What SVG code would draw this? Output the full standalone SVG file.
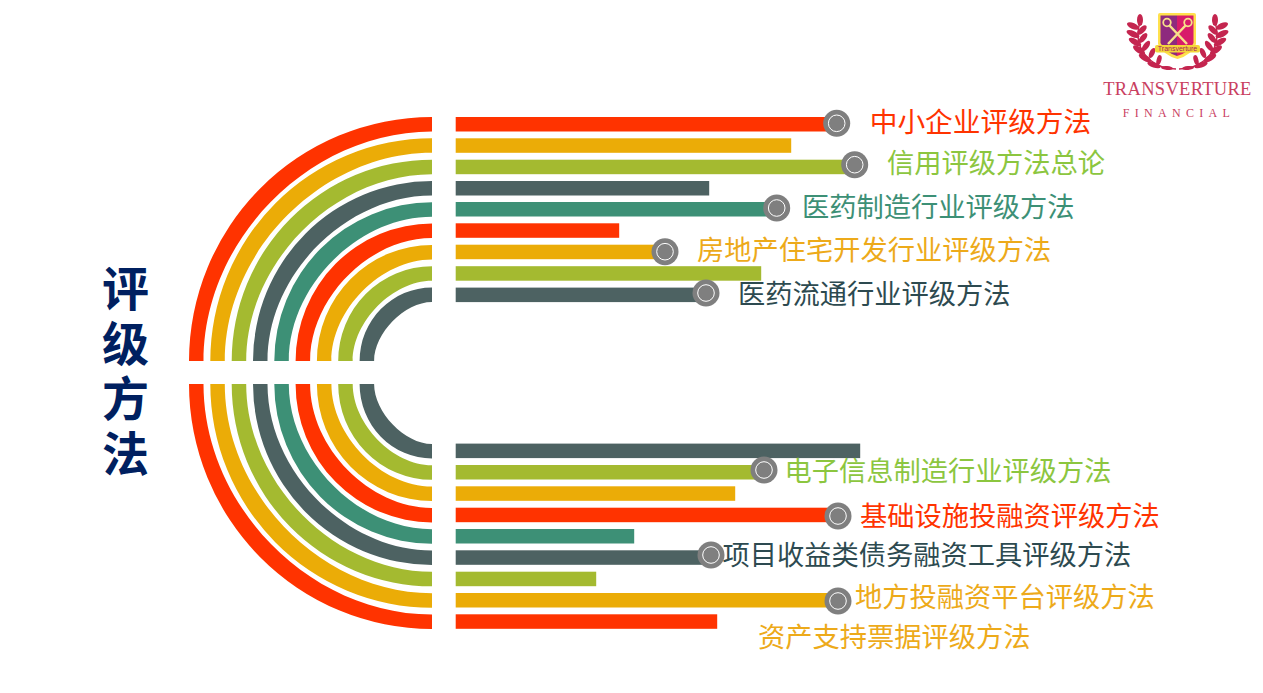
<svg xmlns="http://www.w3.org/2000/svg" width="1263" height="693" viewBox="0 0 1263 693">
<style>
.fr{fill:#ff3300}.fy{fill:#ebac07}.fg{fill:#a4ba30}.fd{fill:#4d6262}.ft{fill:#3d9076}
.lb{font-family:"Noto Sans CJK SC","Liberation Sans",sans-serif;font-size:27.25px}
.ti{font-family:"Noto Sans CJK SC","Liberation Sans",sans-serif;font-size:47px;font-weight:700;fill:#002060;writing-mode:vertical-rl;letter-spacing:8px}
.o{fill:#7f7f7f}.i{fill:none;stroke:#fff;stroke-width:1}
.lf{fill:#c4254f}
</style>
<defs>
<g id="dot"><circle r="13.5" class="o"/><circle r="8.300" class="i"/></g>
<g id="laurel">
<path d="M1140 22Q1133 45 1150 60Q1161 69 1176 69" fill="none" stroke="#c4254f" stroke-width="1.500"/>
<ellipse class="lf" cx="1140" cy="20" rx="3" ry="6"/>
<ellipse class="lf" cx="1133" cy="26" rx="6.500" ry="3" transform="rotate(25 1133 26)"/>
<ellipse class="lf" cx="1142" cy="30" rx="6" ry="2.800" transform="rotate(-45 1142 30)"/>
<ellipse class="lf" cx="1133" cy="34" rx="7" ry="3" transform="rotate(25 1133 34)"/>
<ellipse class="lf" cx="1143" cy="38" rx="6" ry="2.800" transform="rotate(-50 1143 38)"/>
<ellipse class="lf" cx="1135" cy="42" rx="7" ry="3" transform="rotate(30 1135 42)"/>
<ellipse class="lf" cx="1146" cy="46" rx="6" ry="2.800" transform="rotate(-55 1146 46)"/>
<ellipse class="lf" cx="1139" cy="50" rx="7" ry="3" transform="rotate(35 1139 50)"/>
<ellipse class="lf" cx="1152" cy="53" rx="5.500" ry="2.600" transform="rotate(-65 1152 53)"/>
<ellipse class="lf" cx="1145" cy="58" rx="7" ry="3" transform="rotate(30 1145 58)"/>
<ellipse class="lf" cx="1159" cy="60" rx="5" ry="2.400" transform="rotate(-75 1159 60)"/>
<ellipse class="lf" cx="1154" cy="65" rx="7" ry="2.600" transform="rotate(18 1154 65)"/>
<ellipse class="lf" cx="1167" cy="68" rx="6" ry="2" transform="rotate(5 1167 68)"/>
</g>
</defs>
<rect width="1263" height="693" fill="#fff"/>
<g id="arcs-top">
<path class="fr" d="M189 361A243 244 0 0 1 432 117V131.500C310.500 131.500 203.500 239 203.500 361Z"/>
<path class="fy" d="M210.300 361A221.700 222.700 0 0 1 432 138.300V152.800C322.300 152.800 224.800 250.700 224.800 361Z"/>
<path class="fg" d="M231.700 361A200.300 201.300 0 0 1 432 159.700V174.200C334.100 174.200 246.200 262.600 246.200 361Z"/>
<path class="fd" d="M253 361A179 180 0 0 1 432 181V195.500C345.900 195.500 267.500 274.300 267.500 361Z"/>
<path class="ft" d="M274.300 361A157.700 158.700 0 0 1 432 202.300V216.800C357.600 216.800 288.800 286.100 288.800 361Z"/>
<path class="fr" d="M295.600 361A136.400 137.400 0 0 1 432 223.600V238.100C369.400 238.100 310.100 297.900 310.100 361Z"/>
<path class="fy" d="M316.900 361A115.100 116.100 0 0 1 432 244.900V259.400C381.100 259.400 331.400 309.600 331.400 361Z"/>
<path class="fg" d="M338.200 361A93.800 94.800 0 0 1 432 266.200V280.700C392.900 280.700 352.700 321.400 352.700 361Z"/>
<path class="fd" d="M359.600 361A72.400 73.500 0 0 1 432 287.500V302C404.700 302 374.100 333.200 374.100 361Z"/>
</g>
<g id="arcs-bottom">
<path class="fr" d="M189 384A243 245 0 0 0 432 629V614.500C310.500 614.500 203.500 506.600 203.500 384Z"/>
<path class="fy" d="M210.300 384A221.700 223.700 0 0 0 432 607.700V593.200C322.300 593.200 224.800 494.800 224.800 384Z"/>
<path class="fg" d="M231.700 384A200.300 202.300 0 0 0 432 586.300V571.800C334.100 571.800 246.200 483 246.200 384Z"/>
<path class="fd" d="M253 384A179 181 0 0 0 432 565V550.500C345.900 550.500 267.500 471.200 267.500 384Z"/>
<path class="ft" d="M274.300 384A157.700 159.700 0 0 0 432 543.700V529.200C357.600 529.200 288.800 459.400 288.800 384Z"/>
<path class="fr" d="M295.600 384A136.400 138.400 0 0 0 432 522.400V507.900C369.400 507.900 310.100 447.600 310.100 384Z"/>
<path class="fy" d="M316.900 384A115.100 117.100 0 0 0 432 501.100V486.600C381.100 486.600 331.400 435.900 331.400 384Z"/>
<path class="fg" d="M338.200 384A93.800 95.800 0 0 0 432 479.800V465.300C392.900 465.300 352.700 424.100 352.700 384Z"/>
<path class="fd" d="M359.600 384A72.400 74.500 0 0 0 432 458.500V444C404.700 444 374.100 412.300 374.100 384Z"/>
</g>
<g id="connectors">
<rect class="fr" x="455.7" y="117" width="381" height="14.5"/>
<rect class="fy" x="455.7" y="138.3" width="335.5" height="14.5"/>
<rect class="fg" x="455.7" y="159.7" width="398" height="14.5"/>
<rect class="fd" x="455.7" y="181" width="253.5" height="14.5"/>
<rect class="ft" x="455.7" y="202" width="321" height="14.5"/>
<rect class="fr" x="455.7" y="223.3" width="163.5" height="14.5"/>
<rect class="fy" x="455.7" y="244.7" width="209" height="14.5"/>
<rect class="fg" x="455.7" y="266.2" width="305.5" height="14.5"/>
<rect class="fd" x="455.7" y="287.6" width="250" height="14.5"/>
<rect class="fd" x="455.7" y="443.6" width="404.5" height="14.5"/>
<rect class="fg" x="455.7" y="465" width="308" height="14.5"/>
<rect class="fy" x="455.7" y="486.3" width="279.5" height="14.5"/>
<rect class="fr" x="455.7" y="507.7" width="382" height="14.5"/>
<rect class="ft" x="455.7" y="529" width="178.5" height="14.5"/>
<rect class="fd" x="455.7" y="550.3" width="255" height="14.5"/>
<rect class="fg" x="455.7" y="571.7" width="140.5" height="14.5"/>
<rect class="fy" x="455.7" y="593" width="382" height="14.5"/>
<rect class="fr" x="455.7" y="614.3" width="261.5" height="14.5"/>
</g>
<g id="n1"><use href="#dot" x="836.7" y="123.3"/><text class="lb" x="869.700" y="132" fill="#ff3300" style="font-size:27.700px">中小企业评级方法</text></g>
<g id="n2"><use href="#dot" x="854.7" y="164.7"/><text class="lb" x="887" y="173" fill="#8cc63f">信用评级方法总论</text></g>
<g id="n3"><use href="#dot" x="776.7" y="208"/><text class="lb" x="802" y="217" fill="#3d9076">医药制造行业评级方法</text></g>
<g id="n4"><use href="#dot" x="665" y="251.7"/><text class="lb" x="697" y="260" fill="#edaa1a">房地产住宅开发行业评级方法</text></g>
<g id="n5"><use href="#dot" x="706" y="293"/><text class="lb" x="738" y="304" fill="#2d4a50">医药流通行业评级方法</text></g>
<g id="n6"><use href="#dot" x="764" y="470"/><text class="lb" x="784.500" y="481" fill="#8cc63f">电子信息制造行业评级方法</text></g>
<g id="n7"><use href="#dot" x="838" y="516"/><text class="lb" x="860" y="525.500" fill="#ff3300">基础设施投融资评级方法</text></g>
<g id="n8"><use href="#dot" x="711" y="555"/><text class="lb" x="722.500" y="565" fill="#2d4a50">项目收益类债务融资工具评级方法</text></g>
<g id="n9"><use href="#dot" x="838" y="601"/><text class="lb" x="855" y="607" fill="#edaa1a">地方投融资平台评级方法</text></g>
<g id="n10"><text class="lb" x="758" y="647" fill="#edaa1a">资产支持票据评级方法</text></g>
<g id="title"><text class="ti" x="125.500" y="265">评级方法</text></g>
<g id="logo">
<use href="#laurel"/>
<use href="#laurel" transform="translate(2355 0) scale(-1 1)"/>
<path d="M1158 15Q1158 13 1160 13H1194Q1196 13 1196 15V44Q1192 55 1177.500 59Q1163 55 1158 44Z" fill="#ffe14d"/>
<path d="M1160.500 15.500H1177V56Q1165 52 1160.500 43Z" fill="#8e2a7e"/>
<path d="M1177 15.500H1193.500V43Q1190 52 1177 56Z" fill="#d81b6a"/>
<path d="M1169 25L1187 44M1186 25L1168 44" stroke="#f7e08a" stroke-width="2.500" fill="none"/>
<circle cx="1167" cy="22.500" r="3.800" fill="none" stroke="#f7e08a" stroke-width="1.800"/>
<circle cx="1188" cy="22.500" r="3.800" fill="none" stroke="#f7e08a" stroke-width="1.800"/>
<rect x="1155" y="45" width="45" height="7.500" rx="2" fill="#f4d63a"/>
<text x="1177.500" y="51" text-anchor="middle" font-family="Liberation Sans,sans-serif" font-size="7" fill="#a3235c">Transverture</text>
<text x="1177.500" y="95" text-anchor="middle" font-family="Liberation Serif,serif" font-size="18.500" letter-spacing="0.300" fill="#c9405f">TRANSVERTURE</text>
<text x="1179" y="116.500" text-anchor="middle" font-family="Liberation Serif,serif" font-size="12" letter-spacing="5.300" fill="#c9405f">FINANCIAL</text>
</g>
</svg>
